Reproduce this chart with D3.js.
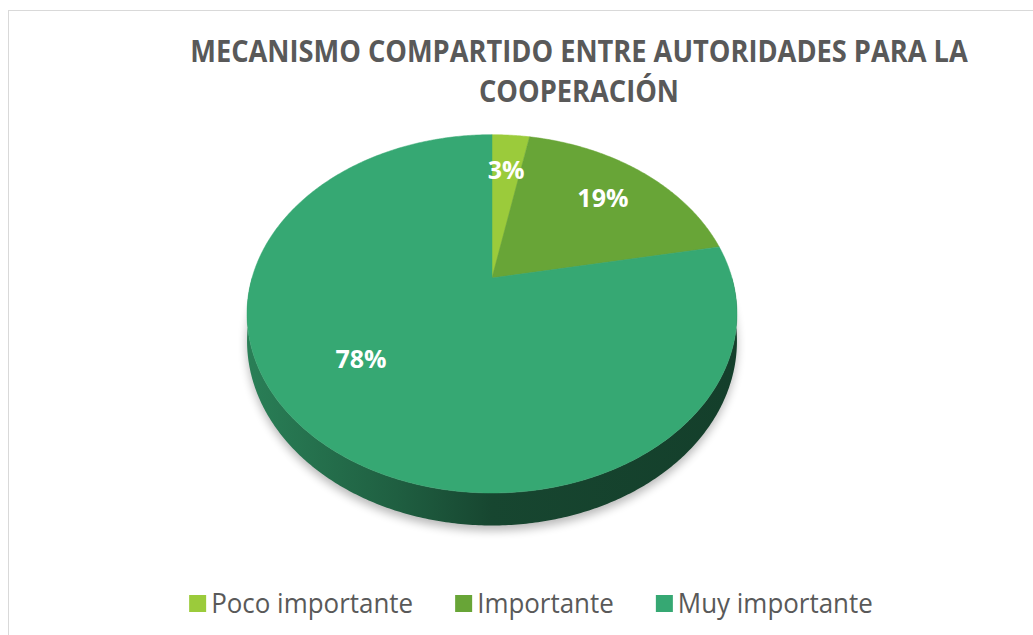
<!DOCTYPE html>
<html>
<head>
<meta charset="utf-8">
<script src="https://cdn.jsdelivr.net/npm/d3@7"></script>
<style>
  body { margin: 0; background: #fff; }
  svg { display: block; }
</style>
</head>
<body>
<script>
// chart data
var categories = ["Poco importante", "Importante", "Muy importante"];
var values = [3, 19, 78];
var colors = ["#9BCB3B", "#68A537", "#36A873"];
var titleLines = ["MECANISMO COMPARTIDO ENTRE AUTORIDADES PARA LA", "COOPERACIÓN"];

function draw_chart() {
    var width = 1033;
    var height = 635;

    var svg = d3.select("body").append("svg")
                .attr("width", width)
                .attr("height", height);

    var defs = svg.append("defs");

    // chart frame
    svg.append("rect")
        .attr("x", 8.5).attr("y", 10.5)
        .attr("width", 1100).attr("height", 700)
        .attr("fill", "none")
        .attr("stroke", "#d9d9d9");

    // title (narrowed a bit to look like Calibri)
    var title = svg.append("g")
        .attr("font-family", "'Open Sans', sans-serif")
        .attr("font-weight", "bold")
        .attr("font-size", 30)
        .attr("fill", "#595959");
    var tlines = title.selectAll("text")
        .data(titleLines)
        .enter()
        .append("text")
        .attr("text-anchor", "middle")
        .attr("x", 0)
        .attr("y", function(d, i) { return 62 + i * 40; })
        .text(function(d) { return d; });
    var squeeze = 778 / tlines.node().getComputedTextLength();
    title.attr("transform", "translate(579,0) scale(" + squeeze + ",1)");

    // 3d pie geometry (perspective tilted disc)
    var cx = 492, cy = 278, rx = 240, ry = 172, persp = 0.2, depth = 26;

    function proj(theta, f, h) {
        var c = Math.cos(theta), s = Math.sin(theta);
        var k = 1 / (1 + persp * f * c);
        return [cx + rx * f * s * k, cy - ry * f * c * k + h * k];
    }

    function arcPoints(a0, a1, h) {
        var n = Math.max(2, Math.ceil((a1 - a0) / 0.01));
        return d3.range(n + 1).map(function(i) {
            return proj(a0 + (a1 - a0) * i / n, 1, h);
        });
    }

    var pie = d3.pie().sort(null).value(function(d) { return d; });
    var arcs = pie(values);
    var line = d3.line();

    // soft shadow under the pie
    var blur = defs.append("filter")
        .attr("id", "shadow")
        .attr("x", "-20%").attr("y", "-20%")
        .attr("width", "140%").attr("height", "140%");
    blur.append("feGaussianBlur").attr("stdDeviation", 5);

    svg.append("path")
        .attr("d", line(arcPoints(0, 2 * Math.PI, depth + 4)) + "Z")
        .attr("fill", "#000")
        .attr("opacity", 0.28)
        .attr("filter", "url(#shadow)");

    // side walls (front half only)
    arcs.forEach(function(d, i) {
        var a0 = Math.max(d.startAngle, Math.PI / 2);
        var a1 = Math.min(d.endAngle, 3 * Math.PI / 2);
        if (a1 <= a0) return;
        var base = d3.color(colors[i]);
        var grad = defs.append("linearGradient")
            .attr("id", "side" + i)
            .attr("gradientUnits", "userSpaceOnUse")
            .attr("x1", cx - rx).attr("x2", cx + rx)
            .attr("y1", 0).attr("y2", 0);
        [[0, 0.8], [0.3, 1.6], [0.5, 2.45], [1, 2.75]].forEach(function(s) {
            grad.append("stop")
                .attr("offset", s[0])
                .attr("stop-color", base.darker(s[1]).formatHex());
        });
        var top = arcPoints(a0, a1, 0);
        var bottom = arcPoints(a0, a1, depth).reverse();
        svg.append("path")
            .attr("d", line(top.concat(bottom)) + "Z")
            .attr("fill", "url(#side" + i + ")");
    });

    // top faces
    svg.selectAll("path.slice")
        .data(arcs)
        .enter()
        .append("path")
        .attr("class", "slice")
        .attr("d", function(d) {
            return line([[cx, cy]].concat(arcPoints(d.startAngle, d.endAngle, 0))) + "Z";
        })
        .attr("fill", function(d, i) { return colors[i]; })
        .attr("stroke", function(d, i) { return colors[i]; })
        .attr("stroke-width", 0.5);

    // data labels (the big slice's label sits a little higher, like Excel)
    var total = d3.sum(values);
    svg.selectAll("text.label")
        .data(arcs)
        .enter()
        .append("text")
        .attr("class", "label")
        .attr("transform", function(d) {
            var big = (d.endAngle - d.startAngle) > Math.PI;
            var p = proj((d.startAngle + d.endAngle) / 2, big ? 0.756 : 0.72, 0);
            return "translate(" + p[0] + "," + (p[1] - (big ? 32 : 0)) + ")";
        })
        .attr("text-anchor", "middle")
        .attr("dy", "0.35em")
        .attr("font-family", "'Open Sans', sans-serif")
        .attr("font-weight", "bold")
        .attr("font-size", 25)
        .attr("fill", "#fff")
        .text(function(d) { return Math.round(d.value / total * 100) + "%"; });

    // legend
    var legend = svg.append("g")
        .attr("font-family", "'Open Sans', sans-serif")
        .attr("font-size", 27)
        .attr("fill", "#595959");
    var items = legend.selectAll("g")
        .data(categories)
        .enter()
        .append("g");
    items.append("rect")
        .attr("width", 17).attr("height", 17)
        .attr("y", 595)
        .attr("fill", function(d, i) { return colors[i]; });
    var labels = items.append("g")
        .append("text")
        .attr("x", 0)
        .attr("y", 613)
        .text(function(d) { return d; });
    var lsq = 202 / labels.node().getComputedTextLength();
    var xpos = 0, offsets = [];
    items.each(function() {
        var t = d3.select(this).select("text");
        var w = t.node().getComputedTextLength() * lsq;
        d3.select(this).select("g").attr("transform", "translate(22,0) scale(" + lsq + ",1)");
        offsets.push(xpos);
        xpos += 22 + w + 42;
    });
    var legendWidth = xpos - 42;
    var startX = 531 - legendWidth / 2;
    items.attr("transform", function(d, i) { return "translate(" + (startX + offsets[i]) + ",0)"; });
}

document.addEventListener("DOMContentLoaded", draw_chart);
</script>
</body>
</html>
